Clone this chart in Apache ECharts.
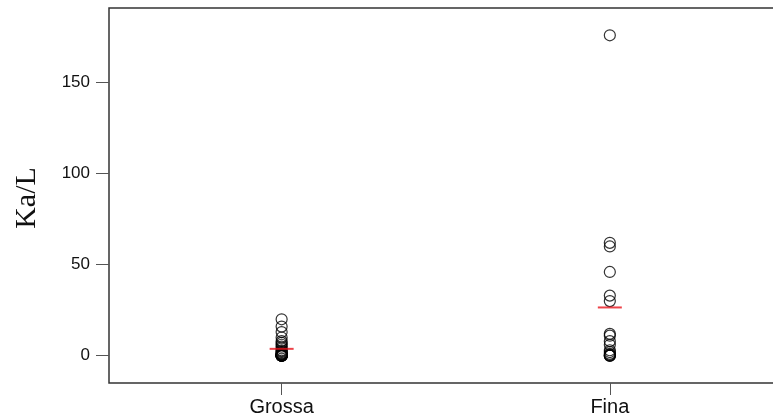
<!DOCTYPE html>
<html>
<head>
<meta charset="utf-8">
<script src="https://cdn.jsdelivr.net/npm/echarts@6/dist/echarts.min.js"></script>
<style>
  html, body { margin: 0; padding: 0; background: #fff; overflow: hidden; }
  #chart { width: 780px; height: 419px; }
</style>
</head>
<body>
<div id="chart"></div>
<script>
// groups on the x axis
const categories = ['Grossa', 'Fina']
// Ka/L values per group
const grossaValues = [20, 16, 13, 10, 8, 7, 6, 5, 4, 3, 2.5, 2, 1.5, 1, 1, 0.5, 0.5, 0.3, 0.2, 0.1, 0, 0, 0, 0, 0, 0, 0]
const finaValues = [176, 62, 60, 46, 33, 30, 12, 11, 8, 6, 3, 2, 1, 0.5, 0, 0, 0]
const yTicks = [0, 50, 100, 150]

const groups = [grossaValues, finaValues]
const mean = (arr) => arr.reduce((a, b) => a + b, 0) / arr.length

const points = []
groups.forEach((vals, i) => vals.forEach((v) => points.push([i + 1, v])))
const means = groups.map((vals, i) => [i + 1, mean(vals)])

// chart is a bit wider than the window so the right edge of the frame is cut off
const chart = echarts.init(document.getElementById('chart'))
chart.setOption({
  animation: false,
  backgroundColor: '#fff',
  grid: {
    left: 109, top: 8, right: 0, bottom: 36,
    show: true, borderColor: '#333', borderWidth: 1.5, backgroundColor: 'transparent',
  },
  xAxis: {
    type: 'value',
    min: 0.474,
    max: 2.5185,
    splitLine: { show: false },
    axisLine: { show: false, onZero: false },
    axisTick: { show: true, customValues: [1, 2], length: 12, lineStyle: { color: '#555', width: 1 } },
    axisLabel: {
      customValues: [1, 2],
      formatter: (v) => categories[Math.round(v) - 1] || '',
      color: '#111', fontFamily: 'Liberation Sans', fontSize: 20, margin: 14,
    },
  },
  yAxis: {
    type: 'value',
    min: -15,
    max: 191,
    splitLine: { show: false },
    axisLine: { show: false, onZero: false },
    axisTick: { show: true, customValues: yTicks, length: 13, lineStyle: { color: '#555', width: 1 } },
    axisLabel: {
      customValues: yTicks,
      color: '#111', fontFamily: 'Liberation Sans', fontSize: 17, margin: 19,
    },
  },
  graphic: [{
    type: 'text',
    x: 27,
    y: 198,
    rotation: Math.PI / 2,
    style: {
      text: 'Ka/L',
      font: '30px "Liberation Serif"',
      fill: '#111',
      textAlign: 'center',
      textVerticalAlign: 'middle',
    },
  }],
  series: [
    {
      type: 'scatter',
      data: points,
      symbol: 'circle',
      symbolSize: 11,
      itemStyle: { color: 'rgba(0,0,0,0)', borderColor: '#000', borderWidth: 1.2 },
      z: 2,
    },
    {
      type: 'scatter',
      data: means,
      symbol: 'rect',
      symbolSize: [24, 2],
      itemStyle: { color: '#e8141c' },
      z: 3,
    },
  ],
})
</script>
</body>
</html>
